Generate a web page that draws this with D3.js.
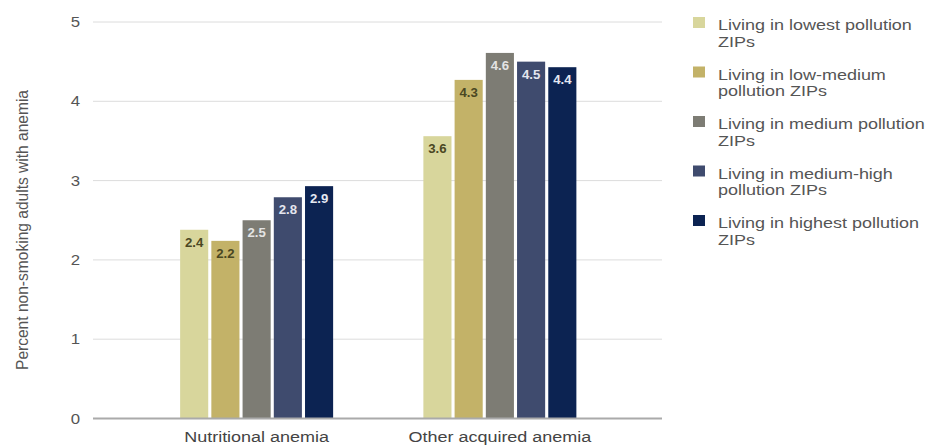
<!DOCTYPE html>
<html>
<head>
<meta charset="utf-8">
<script src="https://cdn.jsdelivr.net/npm/d3@7"></script>
<style>
  body { margin: 0; background: #fff; }
  svg { display: block; font-family: "Liberation Sans", Arial, sans-serif; }
</style>
</head>
<body>
<svg id="chart" width="938" height="446"></svg>
<script>
const categories = ["Nutritional anemia", "Other acquired anemia"];
const seriesNames = [
  ["Living in lowest pollution", "ZIPs"],
  ["Living in low-medium", "pollution ZIPs"],
  ["Living in medium pollution", "ZIPs"],
  ["Living in medium-high", "pollution ZIPs"],
  ["Living in highest pollution", "ZIPs"]
];
const lowest     = [2.38, 3.56];
const lowMedium  = [2.24, 4.27];
const medium     = [2.50, 4.61];
const mediumHigh = [2.79, 4.50];
const highest    = [2.93, 4.43];
const yTicks = [0, 1, 2, 3, 4, 5];

const seriesValues = [lowest, lowMedium, medium, mediumHigh, highest];
const colors = ["#d8d69c", "#c3b268", "#7d7c74", "#3f4b6e", "#0c2352"];
const labelColors = ["#4a4722", "#4a4722", "#e4e4e4", "#e4e6ee", "#e4e8f2"];
const sx = 1.2; // horizontal text stretch seen in the reference

const svg = d3.select("#chart");
const plotLeft = 93, plotRight = 662;
const y = d3.scaleLinear().domain([0, 5]).range([418.5, 22]);
const x0 = d3.scaleBand().domain(categories).range([135, 621.5]).padding(0);
const groupW = 153;
const x1 = d3.scaleBand().domain(d3.range(seriesValues.length))
  .range([0, groupW]).paddingInner(0.1).paddingOuter(0);

// gridlines
svg.append("g").selectAll("line").data(yTicks.filter(d => d > 0)).join("line")
  .attr("x1", plotLeft).attr("x2", plotRight)
  .attr("y1", d => y(d)).attr("y2", d => y(d))
  .attr("stroke", "#dcdcdc").attr("stroke-width", 1);

// y tick labels
svg.append("g").selectAll("text").data(yTicks).join("text")
  .attr("transform", d => `translate(80,${y(d)}) scale(${sx},1)`)
  .attr("dy", "0.36em")
  .attr("text-anchor", "end")
  .attr("font-size", 14).attr("fill", "#555")
  .text(d => d);

// y axis title
svg.append("text")
  .attr("transform", `translate(28, 230) rotate(-90) scale(1,${sx})`)
  .attr("text-anchor", "middle")
  .attr("font-size", 13).attr("fill", "#555")
  .attr("textLength", 280).attr("lengthAdjust", "spacingAndGlyphs")
  .text("Percent non-smoking adults with anemia");

// bars
const groups = svg.append("g").selectAll("g").data(categories).join("g")
  .attr("transform", c => `translate(${x0(c) + (x0.bandwidth() - groupW) / 2},0)`);

groups.each(function(c, ci) {
  const g = d3.select(this);
  seriesValues.forEach((vals, si) => {
    const v = vals[ci];
    g.append("rect")
      .attr("x", x1(si)).attr("width", x1.bandwidth())
      .attr("y", y(v)).attr("height", y(0) - y(v))
      .attr("fill", colors[si]);
    g.append("text")
      .attr("transform", `translate(${x1(si) + x1.bandwidth() / 2},${y(v) + 17}) scale(1.1,1)`)
      .attr("text-anchor", "middle")
      .attr("font-size", 12).attr("font-weight", "bold")
      .attr("fill", labelColors[si])
      .text(d3.format(".1f")(v));
  });
});

// baseline
svg.append("line")
  .attr("x1", plotLeft).attr("x2", plotRight)
  .attr("y1", y(0)).attr("y2", y(0))
  .attr("stroke", "#aaa").attr("stroke-width", 2);

// x labels
svg.append("g").selectAll("text").data(categories).join("text")
  .attr("transform", c => `translate(${x0(c) + x0.bandwidth() / 2},442) scale(${sx},1)`)
  .attr("text-anchor", "middle")
  .attr("font-size", 15).attr("fill", "#444")
  .text(c => c);

// legend
const legend = svg.append("g").selectAll("g").data(seriesNames).join("g")
  .attr("transform", (d, i) => `translate(693, ${17 + i * 49.5})`);
legend.append("rect")
  .attr("x", 0).attr("y", 0).attr("width", 12).attr("height", 11)
  .attr("fill", (d, i) => colors[i]);
legend.each(function(lines) {
  const t = d3.select(this).append("text")
    .attr("transform", `translate(25,13) scale(${sx},1)`)
    .attr("font-size", 15).attr("fill", "#555");
  lines.forEach((ln, k) => {
    t.append("tspan").attr("x", 0).attr("dy", k === 0 ? 0 : 17).text(ln);
  });
});
</script>
</body>
</html>
